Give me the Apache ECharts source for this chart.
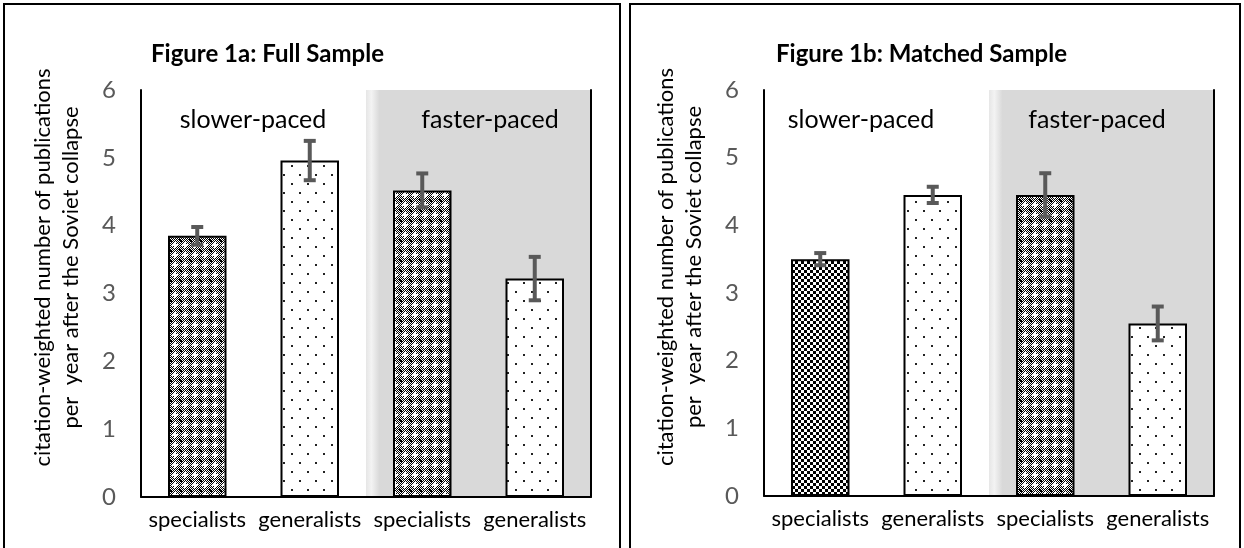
<!DOCTYPE html>
<html>
<head>
<meta charset="utf-8">
<script src="https://cdn.jsdelivr.net/npm/echarts@6/dist/echarts.min.js"></script>
<style>
  html, body { margin: 0; padding: 0; background: #fff; }
  #main { width: 1244px; height: 548px; }
</style>
</head>
<body>
<div id="main"></div>
<script>
// data
var categories = ['specialists', 'generalists', 'specialists', 'generalists'];
var fullMeans = [3.85, 4.96, 4.52, 3.22];
var fullErrors = [0.13, 0.29, 0.25, 0.32];
var matchedMeans = [3.50, 4.45, 4.45, 2.55];
var matchedErrors = [0.09, 0.12, 0.32, 0.25];
var panelTitles = ['Figure 1a: Full Sample', 'Figure 1b: Matched Sample'];
var groupLabels = ['slower-paced', 'faster-paced'];
var yAxisName = 'citation-weighted number of publications\nper  year after the Soviet collapse';

var FONT = 'Lato, "Liberation Sans", sans-serif';

var chartDom = document.getElementById('main');
var myChart = echarts.init(chartDom);

// small canvas tiles for the excel-like fill patterns
function makeTile(w, h, draw) {
  var c = document.createElement('canvas');
  c.width = w;
  c.height = h;
  draw(c.getContext('2d'));
  return c;
}

var sphereTile = makeTile(10, 10, function (ctx) {
  for (var i = 0; i < 10; i++) {
    for (var j = 0; j < 10; j++) {
      ctx.fillStyle = (i + j) % 2 ? '#000' : '#fff';
      ctx.fillRect(i, j, 1, 1);
    }
  }
  ctx.fillStyle = '#fff';
  ctx.fillRect(4, 2, 2, 6);
  ctx.fillRect(2, 4, 6, 2);
  ctx.fillStyle = '#000';
  ctx.fillRect(0, 0, 2, 2);
  ctx.fillRect(9, 9, 1, 1);
});

var checkerTile = makeTile(6, 6, function (ctx) {
  ctx.fillStyle = '#fff';
  ctx.fillRect(0, 0, 6, 6);
  ctx.fillStyle = '#000';
  ctx.fillRect(0, 0, 3, 3);
  ctx.fillRect(3, 3, 3, 3);
});

var dotsTile = makeTile(16, 18, function (ctx) {
  ctx.fillStyle = '#fff';
  ctx.fillRect(0, 0, 16, 18);
  ctx.fillStyle = '#222';
  ctx.fillRect(3, 3, 2, 2);
  ctx.fillRect(11, 12, 2, 2);
});

function pattern(tile) {
  return { image: tile, repeat: 'repeat' };
}

var fullFills = [sphereTile, dotsTile, sphereTile, dotsTile];
var matchedFills = [checkerTile, dotsTile, sphereTile, dotsTile];

function barData(values, fills) {
  return values.map(function (v, i) {
    return {
      value: v,
      itemStyle: { color: pattern(fills[i]), borderColor: '#000', borderWidth: 2 }
    };
  });
}

function errData(values, errs) {
  return values.map(function (v, i) {
    return [i, v, errs[i]];
  });
}

function errorBarItem(params, api) {
  var x = api.value(0);
  var y = api.value(1);
  var e = api.value(2);
  var top = api.coord([x, y + e]);
  var bot = api.coord([x, y - e]);
  var hw = 6;
  var st = { stroke: '#595959', lineWidth: 4 };
  return {
    type: 'group',
    children: [
      { type: 'line', shape: { x1: top[0], y1: top[1], x2: bot[0], y2: bot[1] }, style: st },
      { type: 'line', shape: { x1: top[0] - hw, y1: top[1], x2: top[0] + hw, y2: top[1] }, style: st },
      { type: 'line', shape: { x1: bot[0] - hw, y1: bot[1], x2: bot[0] + hw, y2: bot[1] }, style: st }
    ]
  };
}

// white left half, grey right half with a soft edge
var shade = {
  type: 'linear', x: 0, y: 0, x2: 1, y2: 0,
  colorStops: [
    { offset: 0, color: '#fff' },
    { offset: 0.5, color: '#fff' },
    { offset: 0.5, color: '#e6e6e6' },
    { offset: 0.512, color: '#f3f3f3' },
    { offset: 0.53, color: '#d9d9d9' },
    { offset: 1, color: '#d9d9d9' }
  ]
};

function bottomAxis(gridIndex) {
  return {
    type: 'category', gridIndex: gridIndex, data: categories, position: 'bottom',
    axisLine: { lineStyle: { color: '#bfbfbf', width: 1 } },
    axisTick: { show: false },
    axisLabel: { color: '#000', fontSize: 22, fontFamily: FONT, margin: 12, interval: 0 }
  };
}
function topAxis(gridIndex) {
  return {
    type: 'category', gridIndex: gridIndex, data: categories, position: 'top',
    axisLine: { lineStyle: { color: '#000', width: 2 } },
    axisTick: { show: false }, axisLabel: { show: false }
  };
}
function leftAxis(gridIndex) {
  return {
    type: 'value', gridIndex: gridIndex, min: 0, max: 6, interval: 1, position: 'left',
    axisLine: { show: true, lineStyle: { color: '#000', width: 2 } },
    axisTick: { show: false },
    splitLine: { show: false },
    axisLabel: { color: '#595959', fontSize: 24, fontFamily: FONT, margin: 25 },
    name: yAxisName,
    nameLocation: 'middle',
    nameGap: 56,
    nameTextStyle: { color: '#000', fontSize: 22, fontFamily: FONT, lineHeight: 28, padding: [0, 0, 0, 52] }
  };
}
function rightAxis(gridIndex) {
  return {
    type: 'value', gridIndex: gridIndex, min: 0, max: 6, interval: 1, position: 'right',
    axisLine: { show: true, lineStyle: { color: '#000', width: 2 } },
    axisTick: { show: false }, axisLabel: { show: false }, splitLine: { show: false }
  };
}

function annot(text, x, y) {
  return {
    type: 'text', x: x, y: y,
    style: { text: text, fill: '#000', font: '25px ' + FONT, align: 'center', verticalAlign: 'middle' }
  };
}

option = {
  animation: false,
  title: [
    { text: panelTitles[0], left: 146, top: 37, textStyle: { fontSize: 24, fontWeight: 'bold', color: '#000', fontFamily: FONT } },
    { text: panelTitles[1], left: 771, top: 37, textStyle: { fontSize: 24, fontWeight: 'bold', color: '#000', fontFamily: FONT } }
  ],
  grid: [
    { left: 141, right: 653, top: 90, bottom: 51, show: true, borderWidth: 0, backgroundColor: shade },
    { left: 764, right: 30, top: 90, bottom: 52, show: true, borderWidth: 0, backgroundColor: shade }
  ],
  xAxis: [bottomAxis(0), topAxis(0), bottomAxis(1), topAxis(1)],
  yAxis: [leftAxis(0), rightAxis(0), leftAxis(1), rightAxis(1)],
  graphic: [
    { type: 'rect', shape: { x: 4, y: 4, width: 616, height: 560 }, style: { fill: 'none', stroke: '#000', lineWidth: 2 }, silent: true },
    { type: 'rect', shape: { x: 630, y: 4, width: 610, height: 560 }, style: { fill: 'none', stroke: '#000', lineWidth: 2 }, silent: true },
    annot(groupLabels[0], 253, 120),
    annot(groupLabels[1], 490, 120),
    annot(groupLabels[0], 861, 120),
    annot(groupLabels[1], 1097, 120)
  ],
  series: [
    { type: 'bar', xAxisIndex: 0, yAxisIndex: 0, barWidth: '52%', data: barData(fullMeans, fullFills) },
    { type: 'custom', xAxisIndex: 0, yAxisIndex: 0, renderItem: errorBarItem, data: errData(fullMeans, fullErrors), z: 5 },
    { type: 'bar', xAxisIndex: 2, yAxisIndex: 2, barWidth: '52%', data: barData(matchedMeans, matchedFills) },
    { type: 'custom', xAxisIndex: 2, yAxisIndex: 2, renderItem: errorBarItem, data: errData(matchedMeans, matchedErrors), z: 5 }
  ]
};

option && myChart.setOption(option);
</script>
</body>
</html>
